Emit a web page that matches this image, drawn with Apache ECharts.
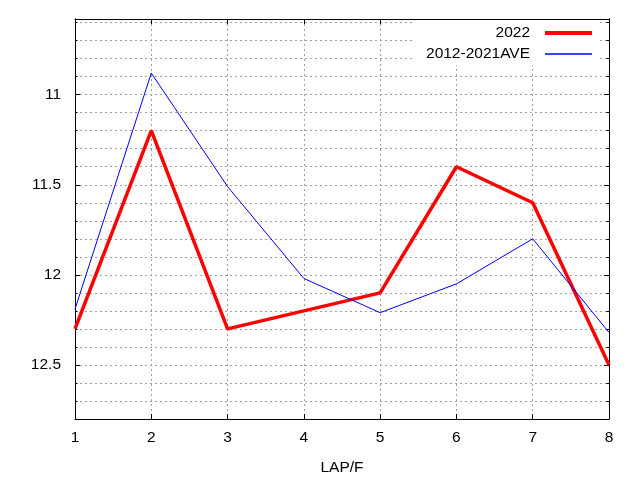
<!DOCTYPE html>
<html>
<head>
<meta charset="utf-8">
<script src="https://cdn.jsdelivr.net/npm/echarts@6/dist/echarts.min.js"></script>
<style>html,body{margin:0;padding:0;background:#fff}#c{width:640px;height:480px}</style>
</head>
<body>
<div id="c"></div>
<script>
const laps = ['1','2','3','4','5','6','7','8'];
const y2022 = [12.3, 11.2, 12.3, 12.2, 12.1, 11.4, 11.6, 12.5];
const yAve = [12.19, 10.88, 11.51, 12.02, 12.21, 12.05, 11.8, 12.32];
const yLabelTicks = [11, 11.5, 12, 12.5];
const yGridTicks = [10.6, 10.7, 10.8, 10.9, 11.0, 11.1, 11.2, 11.3, 11.4, 11.5, 11.6, 11.7, 11.8, 11.9, 12.0, 12.1, 12.2, 12.3, 12.4, 12.5, 12.6, 12.7];
const yMin = 10.58, yMax = 12.8;

const font = 'Liberation Sans, Arial, sans-serif';
const fs = 15.5;
const black = '#000';
const gridDash = {color: '#a0a0a0', type: [2, 3], width: 1};

function yAx(pos, labels, minor) {
  return {
    type: 'value', inverse: true, min: yMin, max: yMax, position: pos,
    axisLine: {show: true, lineStyle: {color: black, width: 1}},
    axisTick: {show: true, inside: true, length: minor ? 2.5 : 5,
      customValues: minor ? yGridTicks : yLabelTicks, lineStyle: {color: black}},
    axisLabel: labels ? {show: true, customValues: yLabelTicks, color: black, fontSize: fs,
      fontFamily: font, margin: 14, formatter: v => String(v)} : {show: false},
    splitLine: minor && pos === 'left' ? {show: true, lineStyle: gridDash} : {show: false}
  };
}
function xAx(pos, labels) {
  return {
    type: 'category', data: laps, boundaryGap: false, position: pos,
    name: labels ? 'LAP/F' : '', nameLocation: 'middle', nameGap: 41,
    nameTextStyle: {color: black, fontSize: fs, fontFamily: font},
    axisLine: {show: true, lineStyle: {color: black, width: 1}},
    axisTick: {show: true, inside: true, length: 5, alignWithLabel: true, lineStyle: {color: black}},
    axisLabel: labels ? {show: true, color: black, fontSize: fs, fontFamily: font, margin: 11} : {show: false},
    splitLine: labels ? {show: true, lineStyle: gridDash} : {show: false}
  };
}

const chart = echarts.init(document.getElementById('c'), null, {renderer: 'canvas'});
chart.setOption({
  backgroundColor: '#fff',
  animation: false,
  grid: {left: 75, right: 31, top: 19, bottom: 61, outerBoundsMode: 'none', containLabel: false},
  xAxis: [xAx('bottom', true), xAx('top', false)],
  yAxis: [yAx('left', true, false), yAx('left', false, true), yAx('right', false, false), yAx('right', false, true)],
  legend: {
    orient: 'vertical', align: 'right', right: 40, top: 20,
    padding: [5, 6, 3, 12], backgroundColor: '#fff',
    itemWidth: 47, itemHeight: 14, itemGap: 5, selectedMode: false,
    itemStyle: {opacity: 0},
    textStyle: {color: black, fontSize: fs, fontFamily: font, padding: [0, 10, 0, 0]},
    data: [
      {name: '2022', lineStyle: {width: 4, color: '#ff0000'}},
      {name: '2012-2021AVE', lineStyle: {width: 1.5, color: '#0000ff'}}
    ]
  },
  series: [
    {name: '2022', type: 'line', data: y2022, symbol: 'none', z: 3,
      lineStyle: {color: '#ff0000', width: 3.5}, itemStyle: {color: '#ff0000'}},
    {name: '2012-2021AVE', type: 'line', data: yAve, symbol: 'none', z: 4,
      lineStyle: {color: '#0000ff', width: 1}, itemStyle: {color: '#0000ff'}}
  ]
});
</script>
</body>
</html>
